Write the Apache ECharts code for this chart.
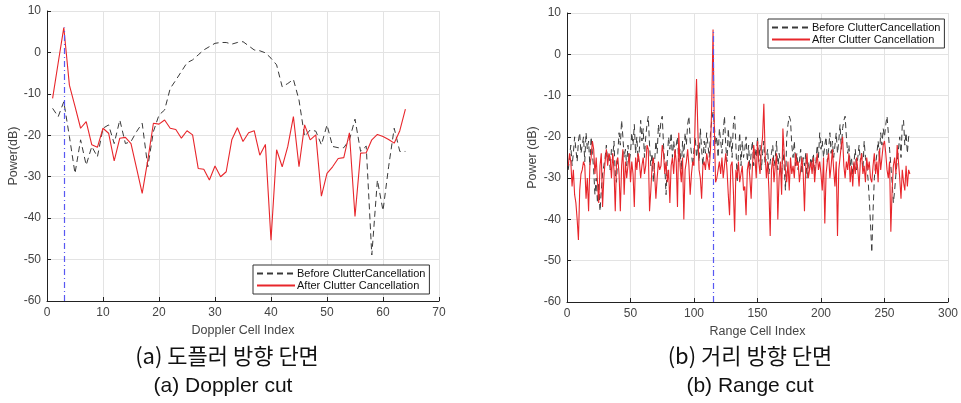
<!DOCTYPE html>
<html>
<head>
<meta charset="utf-8">
<script src="https://cdn.jsdelivr.net/npm/echarts@6/dist/echarts.min.js"></script>
<style>
html,body{margin:0;padding:0;background:#fff;}
#c{width:961px;height:403px;}
</style>
</head>
<body>
<div id="c"></div>
<script>
// ---- Data ----
const yTicks = [-60, -50, -40, -30, -20, -10, 0, 10];
const dopplerTicks = [0, 10, 20, 30, 40, 50, 60, 70];
const rangeTicks = [0, 50, 100, 150, 200, 250, 300];

// Doppler cut (cells 1..64)
const dopplerBefore = [
  -13.5, -15.5, -11.9, -20.3, -29.2, -21.1, -27.2, -22.7, -25.2, -18.3,
  -17.5, -22.0, -16.3, -22.0, -21.5, -19.1, -17.1, -27.6, -19.1, -15.1,
  -13.9, -8.7, -6.7, -4.6, -2.5, -1.8, -0.6, 0.6, 1.4, 2.2,
  2.4, 2.4, 2.0, 2.4, 2.6, 1.6, 0.6, 0.4, -0.1, -1.4,
  -3.0, -8.3, -7.5, -6.5, -11.5, -20.3, -18.7, -19.0, -22.3, -17.5,
  -22.7, -23.0, -23.0, -21.1, -16.1, -23.9, -22.6, -48.9, -30.8, -38.2,
  -27.6, -18.3, -23.9, -23.9
];
const dopplerAfter = [
  -11.1, -2.5, 6.0, -7.9, -13.0, -18.3, -16.7, -22.3, -22.9, -18.3,
  -19.5, -26.2, -20.7, -20.5, -22.0, -28.0, -34.0, -26.0, -17.1, -17.3,
  -16.3, -18.3, -18.6, -20.7, -18.9, -19.9, -28.0, -28.2, -30.8, -27.4,
  -30.0, -28.8, -21.1, -18.2, -21.5, -19.4, -18.9, -24.8, -22.2, -45.3,
  -23.5, -27.6, -22.7, -15.5, -27.6, -17.5, -21.1, -19.9, -34.7, -29.2,
  -27.6, -25.6, -25.4, -19.4, -39.6, -24.3, -24.2, -21.1, -19.8, -20.3,
  -21.0, -21.9, -18.9, -13.7
];
const dopplerTargetCell = 3;

// Range cut (cells 1..270)
const rangeBefore = [
  -28, -25, -22, -27, -24, -20, -23, -26, -21, -19,
  -24, -22, -20, -26, -19, -23, -21, -27, -20, -24,
  -28, -34, -30, -36, -31, -38, -33, -29, -27, -25,
  -22, -26, -24, -28, -23, -25, -21, -29, -31, -24,
  -19, -22, -16, -20, -25, -23, -27, -22, -26, -24,
  -19, -22, -17, -24, -20, -26, -23, -16, -21, -18,
  -25, -20, -17, -15, -22, -27, -24, -31, -26, -21,
  -24, -17, -20, -16, -15, -22, -27, -34, -25, -20,
  -23, -19, -25, -21, -24, -22, -20, -26, -23, -28,
  -21, -25, -19, -22, -17, -15, -21, -24, -27, -23,
  -20, -25, -22, -26, -18, -23, -27, -21, -24, -19,
  -22, -25, -19, -16, -14, -17, -22, -20, -25, -18,
  -21, -24, -19, -15, -22, -26, -18, -23, -20, -25,
  -17, -15, -22, -31, -24, -19, -27, -21, -25, -23,
  -20, -26, -22, -28, -24, -21, -27, -23, -25, -20,
  -26, -22, -28, -24, -21, -27, -25, -23, -29, -26,
  -24, -22, -27, -25, -21, -28, -24, -26, -30, -23,
  -27, -33, -20, -17, -15, -16, -22, -25, -21, -27,
  -24, -28, -26, -23, -29, -25, -27, -24, -30, -26,
  -28, -25, -27, -24, -29, -26, -22, -25, -19, -23,
  -21, -25, -22, -20, -26, -23, -19, -24, -21, -25,
  -22, -19, -24, -21, -17, -23, -18, -16, -15, -20,
  -24, -22, -27, -25, -29, -26, -23, -28, -25, -22,
  -26, -24, -28, -21, -25, -27, -30, -35, -41, -48,
  -38, -30, -27, -24, -21, -25, -19, -22, -18, -20,
  -17, -15, -19, -23, -27, -31, -36, -33, -29, -26,
  -23, -20, -25, -17, -16, -22, -19, -24, -20, -19
];
const rangeAfter = [
  -27, -24, -26, -32, -28, -34, -36, -40, -45, -33,
  -29, -28, -26, -27, -35, -30, -38, -27, -25, -21,
  -23, -29, -25, -31, -36, -27, -24, -37, -30, -26,
  -23, -27, -24, -25, -30, -24, -28, -38, -26, -25,
  -29, -38, -27, -23, -34, -26, -30, -27, -24, -31,
  -26, -29, -37, -25, -28, -24, -26, -30, -27, -25,
  -29, -27, -22, -23, -38, -33, -27, -25, -29, -35,
  -30, -26, -28, -27, -22, -24, -29, -26, -31, -28,
  -36, -27, -25, -29, -23, -26, -37, -19, -27, -31,
  -25, -40, -28, -26, -23, -27, -34, -29, -26, -27,
  -15, -6, -18, -28, -30, -35, -27, -26, -28, -24,
  -26, -28, -23, -12, 6, -18, -31, -30, -28, -26,
  -29, -25, -30, -27, -24, -28, -34, -39, -27, -26,
  -33, -43, -28, -30, -26, -31, -29, -27, -33, -32,
  -39, -28, -26, -30, -35, -27, -22, -25, -30, -21,
  -26, -29, -23, -20, -12, -24, -30, -26, -33, -44,
  -28, -25, -31, -27, -24, -40, -30, -26, -34, -18,
  -24, -28, -31, -26, -33, -25, -29, -27, -30, -24,
  -27, -26, -31, -28, -25, -29, -38, -27, -24, -30,
  -28, -26, -29, -25, -31, -27, -24, -28, -26, -29,
  -33, -25, -41, -29, -26, -24, -30, -27, -23, -28,
  -32, -26, -44, -28, -25, -22, -20, -27, -30, -26,
  -28, -24, -31, -27, -32, -26, -29, -25, -28, -32,
  -26, -24, -29, -27, -31, -25, -28, -26, -30, -31,
  -27, -24, -29, -26, -31, -23, -28, -25, -22, -21,
  -24, -28, -30, -26, -43, -33, -27, -25, -29, -22,
  -26, -30, -35, -28, -31, -33, -27, -32, -28, -29
];
const rangeTargetCell = 115;

const seriesNames = ['Before ClutterCancellation', 'After Clutter Cancellation'];
const captions = [
  ['(a) 도플러 방향 단면', '(a) Doppler cut'],
  ['(b) 거리 방향 단면', '(b) Range cut']
];

// ---- Helpers ----
const pairs = arr => arr.map((v, i) => [i + 1, v]);
const FONT = '"Liberation Sans", Arial, sans-serif';
const RED = '#e8262b';
const DARK = '#3a3a3a';
const GRIDC = '#e3e3e3';

function xAxisCfg(gridIndex, ticks, name) {
  return {
    gridIndex, type: 'value', min: ticks[0], max: ticks[ticks.length - 1],
    interval: ticks[1] - ticks[0],
    name, nameLocation: 'middle', nameGap: 21,
    nameTextStyle: { color: '#444', fontSize: 12.5, fontFamily: FONT },
    axisLine: { show: true, onZero: false, lineStyle: { color: '#222', width: 1 } },
    axisTick: { show: true, inside: true, length: 4, lineStyle: { color: '#222' } },
    axisLabel: { color: '#444', fontSize: 12, fontFamily: FONT, margin: 6 },
    splitLine: { show: true, lineStyle: { color: GRIDC, width: 1 } }
  };
}
function yAxisCfg(gridIndex, name, gap) {
  return {
    gridIndex, type: 'value', min: yTicks[0], max: yTicks[yTicks.length - 1],
    interval: yTicks[1] - yTicks[0],
    name, nameLocation: 'middle', nameGap: gap, nameRotate: 90,
    nameTextStyle: { color: '#444', fontSize: 12.5, fontFamily: FONT },
    axisLine: { show: true, onZero: false, lineStyle: { color: '#222', width: 1 } },
    axisTick: { show: true, inside: true, length: 4, lineStyle: { color: '#222' } },
    axisLabel: { color: '#444', fontSize: 12, fontFamily: FONT, margin: 6 },
    splitLine: { show: true, lineStyle: { color: GRIDC, width: 1 } }
  };
}
function markV(cell, peak) {
  return {
    silent: true, symbol: 'none', label: { show: false },
    lineStyle: { color: '#5858f2', width: 1.2, type: [6, 3, 1, 3] },
    data: [[{ coord: [cell, yTicks[0]] }, { coord: [cell, peak] }]]
  };
}
function lineSeries(name, idx, data, dashed, mark) {
  const s = {
    name, type: 'line', xAxisIndex: idx, yAxisIndex: idx, data,
    symbol: 'none', animation: false, z: dashed ? 2 : 3,
    lineStyle: dashed ? { color: DARK, width: 1, type: [6, 4] } : { color: RED, width: 1.1 },
    itemStyle: { color: dashed ? DARK : RED }
  };
  if (mark) s.markLine = mark;
  return s;
}
function legendCfg(left, top) {
  return {
    left, top, orient: 'vertical', itemGap: 1, itemWidth: 38, itemHeight: 10,
    padding: [3, 4, 3, 3], borderColor: '#333', borderWidth: 1, backgroundColor: '#fff',
    itemStyle: { opacity: 0 },
    textStyle: { fontSize: 11, color: '#111', fontFamily: FONT, padding: [0, 0, 0, -3] },
    data: seriesNames.map(n => ({ name: n })), selectedMode: false
  };
}

const chart = echarts.init(document.getElementById('c'), null, { renderer: 'canvas' });
const capStyleK = { fontSize: 22, fontFamily: '"Noto Sans CJK KR", sans-serif', fill: '#111', textAlign: 'center', textVerticalAlign: 'middle' };
const capStyleE = { fontSize: 21, fontFamily: '"Liberation Sans", sans-serif', fill: '#111', textAlign: 'center', textVerticalAlign: 'middle' };

chart.setOption({
  animation: false,
  backgroundColor: '#fff',
  grid: [
    { left: 47, top: 11, width: 392, height: 290 },
    { left: 567, top: 13, width: 382, height: 289 }
  ],
  xAxis: [xAxisCfg(0, dopplerTicks, 'Doppler Cell Index'), xAxisCfg(1, rangeTicks, 'Range Cell Index')],
  yAxis: [yAxisCfg(0, 'Power(dB)', 27), yAxisCfg(1, 'Power (dB)', 28)],
  legend: [legendCfg(253, 265), legendCfg(768, 19)],
  series: [
    lineSeries(seriesNames[0], 0, pairs(dopplerBefore), true),
    lineSeries(seriesNames[1], 0, pairs(dopplerAfter), false, markV(dopplerTargetCell, dopplerAfter[dopplerTargetCell - 1])),
    lineSeries(seriesNames[0], 1, pairs(rangeBefore), true),
    lineSeries(seriesNames[1], 1, pairs(rangeAfter), false, markV(rangeTargetCell, rangeAfter[rangeTargetCell - 1]))
  ],
  graphic: [
    { type: 'text', x: 227, y: 356, style: Object.assign({ text: captions[0][0] }, capStyleK) },
    { type: 'text', x: 223, y: 386, style: Object.assign({ text: captions[0][1] }, capStyleE) },
    { type: 'text', x: 750, y: 356, style: Object.assign({ text: captions[1][0] }, capStyleK) },
    { type: 'text', x: 750, y: 386, style: Object.assign({ text: captions[1][1] }, capStyleE) }
  ]
});
</script>
</body>
</html>
